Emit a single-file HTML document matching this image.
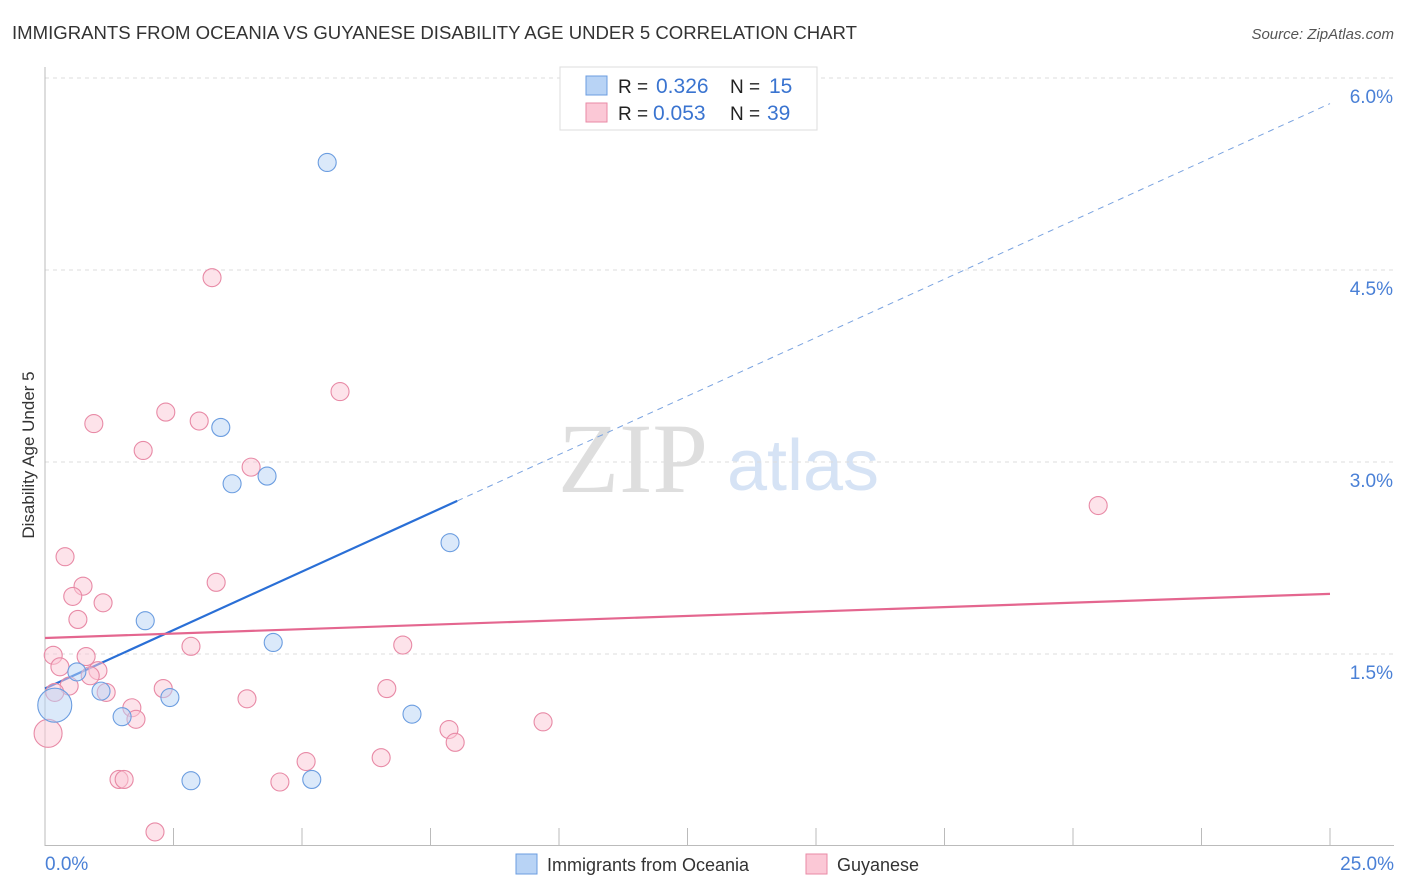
<!DOCTYPE html>
<html><head><meta charset="utf-8"><style>
body{margin:0;background:#fff;}
svg{display:block;font-family:"Liberation Sans",sans-serif;}
</style></head><body>
<svg id="chart" width="1406" height="892" viewBox="0 0 1406 892">
<text x="12" y="39" font-size="18" fill="#333" textLength="845" lengthAdjust="spacingAndGlyphs">IMMIGRANTS FROM OCEANIA VS GUYANESE DISABILITY AGE UNDER 5 CORRELATION CHART</text>
<text x="1394" y="39" font-size="15" fill="#555" font-style="italic" text-anchor="end">Source: ZipAtlas.com</text>
<g>
<text x="633" y="492" font-size="100" fill="#dedede" font-family="Liberation Serif,serif" text-anchor="middle">ZIP</text>
<text x="803" y="490" font-size="72" fill="#d6e3f5" text-anchor="middle">atlas</text>
</g>
<g id="grid"></g>
<g id="axes"></g>
<g id="trend"></g>
<g id="points"></g>
<text transform="translate(34,455) rotate(-90)" font-size="17" fill="#333" text-anchor="middle">Disability Age Under 5</text>
<g>
<rect x="560" y="67" width="257" height="63" fill="#fff" stroke="#ddd"/>
<rect x="586" y="76" width="21" height="19" fill="#b8d3f5" stroke="#6b9de0"/>
<rect x="586" y="103" width="21" height="19" fill="#fbc8d6" stroke="#e88aa6"/>
<text x="618" y="93" font-size="19" fill="#222">R = </text><text x="656" y="93" font-size="21" fill="#3a74d0">0.326</text>
<text x="730" y="93" font-size="19" fill="#222">N = </text><text x="769" y="93" font-size="21" fill="#3a74d0">15</text>
<text x="618" y="120" font-size="19" fill="#222">R = </text><text x="653" y="120" font-size="21" fill="#3a74d0">0.053</text>
<text x="730" y="120" font-size="19" fill="#222">N = </text><text x="767" y="120" font-size="21" fill="#3a74d0">39</text>
</g>
<g>
<rect x="516" y="854" width="21" height="20" fill="#b8d3f5" stroke="#6b9de0"/>
<text x="547" y="871" font-size="18" fill="#333">Immigrants from Oceania</text>
<rect x="806" y="854" width="21" height="20" fill="#fbc8d6" stroke="#e88aa6"/>
<text x="837" y="871" font-size="18" fill="#333">Guyanese</text>
</g>
</svg>
<script>
const yTicks=[1.5,3.0,4.5,6.0];
const xTickLabels=["0.0%","25.0%"];
const blueX=[5.49,3.42,3.64,4.32,7.88,1.95,4.44,0.62,1.09,2.43,1.50,7.14,2.84,5.19,0.19];
const blueY=[5.34,3.27,2.83,2.89,2.37,1.76,1.59,1.36,1.21,1.16,1.01,1.03,0.51,0.52,1.10];
const pinkX=[3.25,5.74,0.95,2.35,3.00,1.91,4.01,20.49,0.39,3.33,0.74,0.54,1.13,0.64,2.84,6.96,0.16,0.29,0.80,1.03,0.88,0.47,1.19,0.19,2.30,6.65,3.93,1.69,1.77,7.86,9.69,7.98,5.08,6.54,1.44,1.54,4.57,2.14,0.06];
const pinkY=[4.44,3.55,3.30,3.39,3.32,3.09,2.96,2.66,2.26,2.06,2.03,1.95,1.90,1.77,1.56,1.57,1.49,1.40,1.48,1.37,1.33,1.25,1.20,1.20,1.23,1.23,1.15,1.08,0.99,0.91,0.97,0.81,0.66,0.69,0.52,0.52,0.50,0.11,0.88];
const blueTrend=[1.23,5.80];
const pinkTrend=[1.625,1.97];
const blueSolidEnd=8.02;

const NS="http://www.w3.org/2000/svg";
const sx=v=>45+v/25*1285;
const sy=v=>846-v*128;
function mk(tag,attrs,parent){const e=document.createElementNS(NS,tag);for(const k in attrs)e.setAttribute(k,attrs[k]);document.getElementById(parent).appendChild(e);return e;}

yTicks.forEach(t=>{
  const l=mk('line',{x1:45,x2:1394,y1:sy(t),y2:sy(t),stroke:'#ddd','stroke-dasharray':'4,4'},'grid');
  
  
  const tx=mk('text',{x:1393,y:sy(t)+25,'font-size':19,fill:'#4a80d6','text-anchor':'end'},'grid');
  tx.textContent=t.toFixed(1)+'%';
  
  
});
mk('line',{x1:45,x2:45,y1:67,y2:846,stroke:'#bbb'},'axes');
const xa=mk('line',{x1:45,x2:1394,y1:845.5,y2:845.5,stroke:'#bbb'},'axes');


for(let i=1;i<=10;i++){
  const t=mk('line',{x1:sx(i*2.5),x2:sx(i*2.5),y1:828,y2:845,stroke:'#bbb'},'axes');
  
  
}
[[0,'start',45],[25,'end',1394]].forEach((d,i)=>{
  const t=mk('text',{x:d[2],y:870,'font-size':19,fill:'#4a80d6','text-anchor':d[1]},'axes');
  t.textContent=xTickLabels[i];
  
  
});

function drawPts(X,Y,fill,stroke,name){
  X.forEach((x,i)=>{
    const big=(x<0.2&&(i===X.length-1));
    const c=mk('circle',{cx:sx(x),cy:sy(Y[i]),r:big?(name==='oceania-point'?17:14):9,fill:fill,'fill-opacity':0.5,stroke:stroke,'stroke-width':1.1},'points');
    
    
  });
}
drawPts(pinkX,pinkY,'#fbc8d6','#e88aa6','guyanese-point');
drawPts(blueX,blueY,'#b8d3f5','#6b9de0','oceania-point');

const bslope=(blueTrend[1]-blueTrend[0])/25;
const bt1=mk('line',{x1:sx(0),y1:sy(blueTrend[0]),x2:sx(blueSolidEnd),y2:sy(blueTrend[0]+bslope*blueSolidEnd),stroke:'#2a6fd6','stroke-width':2.2},'trend');


const bt2=mk('line',{x1:sx(blueSolidEnd),y1:sy(blueTrend[0]+bslope*blueSolidEnd),x2:sx(25),y2:sy(blueTrend[1]),stroke:'#7aa3e0','stroke-width':1,'stroke-dasharray':'6,5'},'trend');


const pt=mk('line',{x1:sx(0),y1:sy(pinkTrend[0]),x2:sx(25),y2:sy(pinkTrend[1]),stroke:'#e4668f','stroke-width':2.2},'trend');


</script>
</body></html>
